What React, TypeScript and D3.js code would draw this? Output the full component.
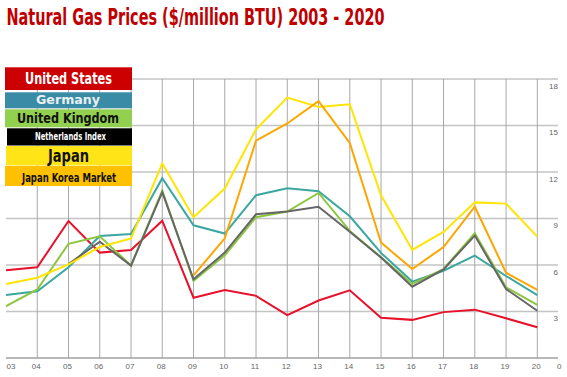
import React from "react";
import * as d3 from "d3";

const years = [2003, 2004, 2005, 2006, 2007, 2008, 2009, 2010, 2011, 2012, 2013, 2014, 2015, 2016, 2017, 2018, 2019, 2020];
const yearLabels = ["03", "04", "05", "06", "07", "08", "09", "10", "11", "12", "13", "14", "15", "16", "17", "18", "19", "20"];
const yTicks = [0, 3, 6, 9, 12, 15, 18];

const usValues = [5.66, 5.85, 8.84, 6.8, 6.97, 8.86, 3.89, 4.39, 4.01, 2.76, 3.71, 4.37, 2.6, 2.46, 2.96, 3.12, 2.56, 1.98];
const germanyValues = [4.06, 4.3, 5.86, 7.87, 8.0, 11.6, 8.56, 8.03, 10.5, 10.95, 10.76, 9.14, 6.78, 4.93, 5.63, 6.6, 5.29, 4.06];
const ukValues = [3.35, 4.42, 7.37, 7.85, 5.97, 10.8, 4.98, 6.62, 9.08, 9.45, 10.65, 8.2, 6.5, 4.78, 5.74, 8.05, 4.56, 3.42];
const nlValues: (number | null)[] = [null, null, 6.06, 7.5, 5.96, 10.7, 5.08, 6.8, 9.27, 9.45, 9.76, 8.15, 6.48, 4.6, 5.72, 7.9, 4.45, 3.05];
const japanValues = [4.77, 5.18, 6.04, 7.16, 7.72, 12.55, 9.08, 10.93, 14.75, 16.8, 16.2, 16.37, 10.5, 6.97, 8.13, 10.04, 9.96, 7.83];
const jkmValues: (number | null)[] = [null, null, null, null, null, null, 5.33, 7.72, 14.02, 15.13, 16.57, 13.88, 7.45, 5.74, 7.16, 9.76, 5.5, 4.39];

const seriesNames = ["United States", "Germany", "United Kingdom", "Netherlands Index", "Japan", "Japan Korea Market"];
const seriesValues = [usValues, germanyValues, ukValues, nlValues, japanValues, jkmValues];
const lineColors = ["#e8102a", "#3aa8a0", "#8cc63e", "#666666", "#ffe500", "#ffa500"];

// legend box styling / layout
const legendStyle = [
  { bg: "#cc0000", fg: "#ffffff", x0: 5, y0: 67.3, y1: 90, tx: 25, tw: 87, base: 84, fs: 15 },
  { bg: "#3a8ba6", fg: "#e8f0f2", x0: 5, y0: 92.3, y1: 108.3, tx: 36, tw: 64, base: 104.3, fs: 12 },
  { bg: "#92d050", fg: "#111111", x0: 5, y0: 109.3, y1: 127.3, tx: 17, tw: 102, base: 123.3, fs: 14 },
  { bg: "#000000", fg: "#ffffff", x0: 7, y0: 128.3, y1: 145.5, tx: 35, tw: 71, base: 140, fs: 10 },
  { bg: "#ffe418", fg: "#111111", x0: 6, y0: 146, y1: 165.5, tx: 48, tw: 41, base: 161.7, fs: 17 },
  { bg: "#ffc000", fg: "#111111", x0: 5, y0: 166, y1: 186, tx: 22, tw: 94, base: 181.7, fs: 13 },
];

const W = 567;
const H = 377;
const plotLeft = 6;
const plotRight = 558;
const xLast = 537.3;
const yTop = 79;
const yBottom = 358;

export default function App() {
  const x = d3.scaleLinear().domain([2003, 2020]).range([plotLeft, xLast]);
  const y = d3.scaleLinear().domain([0, 18]).range([yBottom, yTop]);

  const line = d3
    .line<number | null>()
    .defined((d) => d !== null)
    .x((_, i) => x(years[i]))
    .y((d) => y(d as number));

  const labelFont = "'Liberation Sans', Arial, sans-serif";
  const boldFont = "'Liberation Sans Narrow', 'DejaVu Sans Condensed', sans-serif";

  return (
    <svg
      width={W}
      height={H}
      style={{ position: "absolute", left: 0, top: 0, background: "#fff" }}
    >
      {/* horizontal gridlines */}
      {yTicks.slice(1).map((t) => (
        <line key={"h" + t} x1={plotLeft} x2={plotRight} y1={y(t)} y2={y(t)} stroke="#c4c4c4" strokeWidth={1.6} />
      ))}
      {/* vertical gridlines */}
      {years.slice(1).map((yr) => (
        <line key={"v" + yr} x1={x(yr)} x2={x(yr)} y1={yTop} y2={yBottom} stroke="#a8a8a8" strokeWidth={1} />
      ))}
      {/* x axis line */}
      <line x1={plotLeft} x2={plotRight} y1={yBottom} y2={yBottom} stroke="#a0a0a0" strokeWidth={1.6} />

      {/* y labels */}
      {yTicks.slice(1).map((t) => (
        <text key={"yl" + t} x={plotRight} y={y(t) + 9.5} textAnchor="end" fontFamily={labelFont} fontSize={8} fill="#666">
          {t}
        </text>
      ))}
      <text x={561.5} y={368.5} textAnchor="end" fontFamily={labelFont} fontSize={8} fill="#666">
        {yTicks[0]}
      </text>
      {/* x labels */}
      {years.map((yr, i) => (
        <text
          key={"xl" + yr}
          x={i === 0 ? 6.5 : x(yr) - 1}
          y={368.5}
          textAnchor={i === 0 ? "start" : "middle"}
          fontFamily={labelFont}
          fontSize={8}
          fill="#666"
        >
          {yearLabels[i]}
        </text>
      ))}

      {/* lines */}
      {seriesValues.map((vals, i) => (
        <path key={"s" + i} d={line(vals) || ""} fill="none" stroke={lineColors[i]} strokeWidth={2} strokeLinejoin="miter" />
      ))}

      {/* legend */}
      {legendStyle.map((s, i) => (
        <g key={"lg" + i}>
          <rect x={s.x0} y={s.y0} width={132 - s.x0} height={s.y1 - s.y0} fill={s.bg} />
          <text
            x={s.tx}
            y={s.base}
            fontFamily={boldFont}
            fontWeight="bold"
            fontSize={s.fs}
            fill={s.fg}
            textLength={s.tw}
            lengthAdjust="spacingAndGlyphs"
          >
            {seriesNames[i]}
          </text>
        </g>
      ))}

      {/* title */}
      <text
        x={6.5}
        y={25}
        fontFamily={boldFont}
        fontWeight="bold"
        fontSize={23}
        fill="#c00000"
        textLength={378}
        lengthAdjust="spacingAndGlyphs"
      >
        Natural Gas Prices ($/million BTU) 2003 -  2020
      </text>
    </svg>
  );
}
